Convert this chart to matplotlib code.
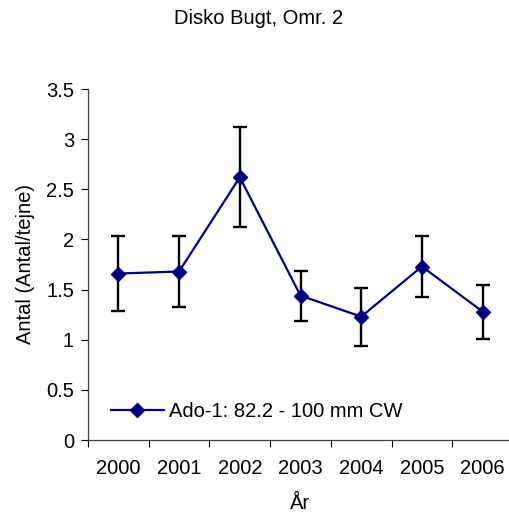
import numpy as np
import matplotlib.pyplot as plt

plt.rcParams['font.family'] = ['Liberation Sans', 'DejaVu Sans']

years = ['2000', '2001', '2002', '2003', '2004', '2005', '2006']
antal = [1.66, 1.68, 2.62, 1.44, 1.23, 1.73, 1.28]
err = [0.37, 0.35, 0.50, 0.25, 0.29, 0.30, 0.27]

fs = 14.5

fig = plt.figure(figsize=(5.09, 5.15), dpi=100)
ax = fig.add_axes([88/509, 75/515, 425/509, 351/515])

x = np.arange(len(years))
ax.errorbar(x, antal, yerr=err, fmt='none', ecolor='black', elinewidth=1.7,
            capsize=5, capthick=1.7, zorder=2)
ax.plot(x, antal, color='#000080', lw=1.6, marker='D', markersize=7.5,
        label='Ado-1: 82.2 - 100 mm CW', zorder=3)

ax.set_xlim(-0.5, len(years) - 0.5)
ax.set_ylim(0, 3.5)
ax.set_yticks(np.arange(0, 3.51, 0.5))
ax.set_yticklabels(['0', '0.5', '1', '1.5', '2', '2.5', '3', '3.5'])

# category axis: ticks between categories, labels in the middle
ax.set_xticks(np.arange(-0.5, len(years), 1.0))
ax.set_xticklabels([])
ax.set_xticks(x, minor=True)
ax.set_xticklabels(years, minor=True)
ax.tick_params(which='both', labelsize=fs)
ax.tick_params(axis='x', which='minor', length=0, pad=14)
ax.tick_params(axis='x', which='major', length=5, direction='out')
ax.tick_params(axis='y', length=5, direction='out', pad=5)

for s in ['top', 'right']:
    ax.spines[s].set_visible(False)
for s in ['left', 'bottom']:
    ax.spines[s].set_color('#404040')
    ax.spines[s].set_linewidth(0.9)

ax.set_ylabel('Antal (Antal/tejne)', fontsize=fs, labelpad=8)
ax.set_xlabel('År', fontsize=fs, labelpad=11)
fig.text(259/509, 1 - 19/515, 'Disko Bugt, Omr. 2', ha='center', va='center', fontsize=fs)

ax.legend(loc='lower left', bbox_to_anchor=(0.02, 0.013), frameon=False,
          fontsize=fs, handlelength=2.65, handletextpad=0.25, borderaxespad=0.3)

fig.savefig('out.png', dpi=100)
